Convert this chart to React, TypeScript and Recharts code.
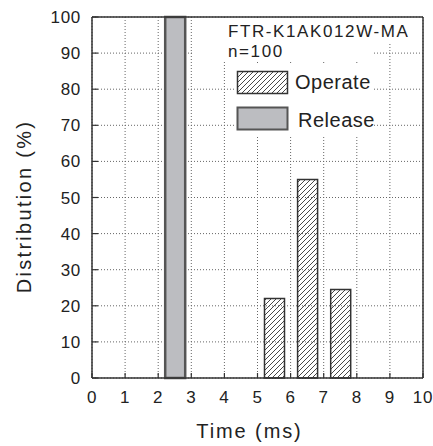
import { BarChart, Bar, XAxis, YAxis, CartesianGrid, ReferenceLine } from 'recharts'

const timeMs = [2.5, 5.5, 6.5, 7.5]
const operatePct = [null, 22, 55, 24.5]
const releasePct = [100, null, null, null]
const xTicks = [0, 1, 2, 3, 4, 5, 6, 7, 8, 9, 10]
const yTicks = [0, 10, 20, 30, 40, 50, 60, 70, 80, 90, 100]
const modelName = 'FTR-K1AK012W-MA'
const sampleLabel = 'n=100'

const data = timeMs.map((t, i) => ({
    time: t,
    operate: operatePct[i],
    release: releasePct[i],
}))

const font = '"Liberation Sans", Arial, Helvetica, sans-serif'
const ink = '#222'

function XTick({ x, y, payload }: any) {
    return (
        <g>
            <line x1={x} y1={y} x2={x} y2={y - 5} stroke="#333" strokeWidth={1.2} />
            <text x={x} y={y + 25} textAnchor="middle" fontSize={17} letterSpacing={0.7} fill={ink} fontFamily={font}>
                {payload.value}
            </text>
        </g>
    )
}

function YTick({ x, y, payload }: any) {
    return (
        <g>
            <line x1={x} y1={y} x2={x + 6} y2={y} stroke="#333" strokeWidth={1.2} />
            <text x={x - 11} y={y + 6} textAnchor="end" fontSize={17} letterSpacing={0.7} fill={ink} fontFamily={font}>
                {payload.value}
            </text>
        </g>
    )
}

export default function App() {
    return (
        <div style={{ position: 'absolute', left: 0, top: 0, width: 433, height: 446, background: '#fff' }}>
            <svg width={0} height={0} style={{ position: 'absolute' }}>
                <defs>
                    <pattern id="hatch" patternUnits="userSpaceOnUse" width={5} height={5}>
                        <path d="M0,5 L5,0 M-1,1 L1,-1 M4,6 L6,4" stroke="#333" strokeWidth={0.9} />
                    </pattern>
                </defs>
            </svg>
            <BarChart width={433} height={446} data={data} margin={{ top: 17, right: 10, bottom: 0, left: 0 }}>
                <CartesianGrid strokeDasharray="1 2" stroke="#666" />
                <XAxis
                    dataKey="time"
                    type="number"
                    domain={[0, 10]}
                    ticks={xTicks}
                    height={68}
                    tickSize={0}
                    tickMargin={0}
                    tickLine={false}
                    tick={<XTick />}
                    axisLine={{ stroke: '#333', strokeWidth: 1.5 }}
                    label={{
                        content: ({ viewBox }: any) => (
                            <text
                                x={viewBox.x + viewBox.width / 2 - 8}
                                y={viewBox.y + 60}
                                textAnchor="middle"
                                fontSize={20}
                                letterSpacing={1.9}
                                fill={ink}
                                fontFamily={font}
                            >
                                Time (ms)
                            </text>
                        ),
                    }}
                />
                <YAxis
                    type="number"
                    domain={[0, 100]}
                    ticks={yTicks}
                    width={92}
                    tickSize={0}
                    tickMargin={0}
                    tickLine={false}
                    tick={<YTick />}
                    axisLine={{ stroke: '#333', strokeWidth: 1.5 }}
                    label={{
                        content: ({ viewBox }: any) => {
                            const cy = viewBox.y + viewBox.height / 2 + 9
                            return (
                                <text
                                    x={31}
                                    y={cy}
                                    transform={`rotate(-90 31 ${cy})`}
                                    textAnchor="middle"
                                    fontSize={20}
                                    letterSpacing={2.3}
                                    fill={ink}
                                    fontFamily={font}
                                >
                                    Distribution (%)
                                </text>
                            )
                        },
                    }}
                />
                <ReferenceLine y={100} stroke="#333" strokeWidth={1.5} />
                <ReferenceLine x={10} stroke="#333" strokeWidth={1.5} />
                <Bar
                    dataKey="release"
                    stackId="s"
                    barSize={20}
                    fill="#bcbdc1"
                    stroke="#555"
                    strokeWidth={2.5}
                    isAnimationActive={false}
                />
                <Bar
                    dataKey="operate"
                    stackId="s"
                    barSize={20}
                    fill="url(#hatch)"
                    stroke="#333"
                    strokeWidth={1.5}
                    isAnimationActive={false}
                />
            </BarChart>
            <svg width={433} height={446} style={{ position: 'absolute', left: 0, top: 0, pointerEvents: 'none' }}>
                <rect x={224} y={19} width={192} height={24} fill="#fff" />
                <rect x={194} y={19} width={178} height={41} fill="#fff" />
                <rect x={234} y={64} width={138} height={72} fill="#fff" />
                <text x={228} y={37} fontSize={17} letterSpacing={1.6} fill={ink} fontFamily={font}>
                    {modelName}
                </text>
                <text x={228} y={57} fontSize={17} letterSpacing={1.6} fill={ink} fontFamily={font}>
                    {sampleLabel}
                </text>
                <rect x={237.5} y={71.5} width={50} height={22} fill="url(#hatch)" stroke="#333" strokeWidth={1.5} />
                <text x={295} y={89} fontSize={20} letterSpacing={0.5} fill={ink} fontFamily={font}>
                    Operate
                </text>
                <rect x={237.5} y={107.5} width={50} height={22} fill="#bcbdc1" stroke="#555" strokeWidth={2} />
                <text x={298} y={127} fontSize={20} letterSpacing={0.5} fill={ink} fontFamily={font}>
                    Release
                </text>
            </svg>
        </div>
    )
}
